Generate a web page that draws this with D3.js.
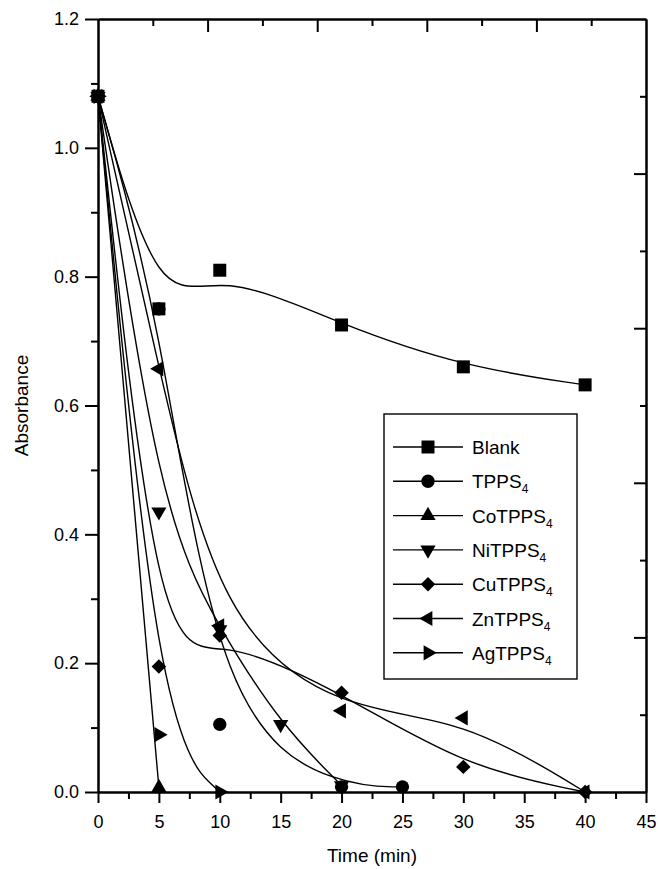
<!DOCTYPE html>
<html><head><meta charset="utf-8">
<script src="https://cdn.jsdelivr.net/npm/d3@7"></script>
<style>body{margin:0;background:#fff}svg{display:block}text{font-family:"Liberation Sans",Arial,Helvetica,sans-serif;fill:#000}</style>
</head><body><svg id="c" width="658" height="869"></svg>
<script>
// ---- data ----
const seriesNames = ["Blank","TPPS","CoTPPS","NiTPPS","CuTPPS","ZnTPPS","AgTPPS"];
const subscripts  = ["","4","4","4","4","4","4"];
const timeBlank = [0,5,10,20,30,40];   const blank = [1.08,0.75,0.81,0.725,0.66,0.632];
const timeTPPS  = [0,5,10,20,25];      const tpps  = [1.08,0.75,0.105,0.008,0.008];
const timeCo    = [0,5];               const co    = [1.08,0.007];
const timeNi    = [0,5,10,15,20];      const ni    = [1.08,0.435,0.252,0.105,0.01];
const timeCu    = [0,5,10,20,30,40];   const cu    = [1.08,0.195,0.243,0.154,0.039,0.0];
const timeZn    = [0,5,10,20,30,40];   const zn    = [1.08,0.657,0.258,0.126,0.115,0.0];
const timeAg    = [0,5,10];            const ag    = [1.08,0.089,0.0];
const xTicks = [0,5,10,15,20,25,30,35,40,45];
const yTicks = [0.0,0.2,0.4,0.6,0.8,1.0,1.2];
const xLabel = "Time (min)";
const yLabel = "Absorbance";

const series = [
  {t:timeBlank, v:blank, sym:"square"},
  {t:timeTPPS,  v:tpps,  sym:"circle"},
  {t:timeCo,    v:co,    sym:"up"},
  {t:timeNi,    v:ni,    sym:"down"},
  {t:timeCu,    v:cu,    sym:"diamond"},
  {t:timeZn,    v:zn,    sym:"left"},
  {t:timeAg,    v:ag,    sym:"right"}
];

// ---- layout ----
const svg = d3.select("#c");
const x = d3.scaleLinear().domain([0,45]).range([98,646]);
const y = d3.scaleLinear().domain([0,1.2]).range([792,19]);
const FS = 18;

function symPath(s){
  if(s==="square") return {d:d3.symbol(d3.symbolSquare,169)(), r:0};
  if(s==="circle") return {d:d3.symbol(d3.symbolCircle,140)(), r:0};
  if(s==="diamond") return {d:d3.symbol(d3.symbolSquare,105)(), r:45};
  const tri = d3.symbol(d3.symbolTriangle,100)();
  const rot = {up:0, down:180, left:-90, right:90}[s];
  return {d:tri, r:rot};
}

// curves
const line = d3.line().x(d=>x(d[0])).y(d=>y(d[1])).curve(d3.curveBasis);
const gCurves = svg.append("g");
series.forEach(s=>{
  const pts = s.t.map((t,i)=>[t,s.v[i]]);
  gCurves.append("path").attr("d",line(pts)).attr("fill","none")
    .attr("stroke","#000").attr("stroke-width",1.4);
});
// markers (Blank drawn last so it sits on top at t=0)
const gMarks = svg.append("g");
series.slice().reverse().forEach(s=>{
  const sp = symPath(s.sym);
  s.t.forEach((t,i)=>{
    gMarks.append("path").attr("d",sp.d)
      .attr("transform",`translate(${x(t)},${y(s.v[i])}) rotate(${sp.r})`)
      .attr("fill","#000");
  });
});

// ---- axes ----
function styleAxis(g){
  g.select(".domain").attr("stroke","#000").attr("stroke-width",2);
  g.selectAll(".tick line").attr("stroke","#000").attr("stroke-width",2);
  g.selectAll("text").attr("font-size",FS).attr("font-family","Liberation Sans, Arial, sans-serif").attr("fill","#000");
}
const minorX = d3.range(2.5,45,5);
const minorY = d3.range(0.1,1.2,0.2);
// bottom
svg.append("g").attr("transform","translate(0,792)")
  .call(d3.axisBottom(x).tickValues(minorX).tickSize(7).tickSizeOuter(0).tickFormat(""))
  .call(styleAxis);
svg.append("g").attr("transform","translate(0,792)")
  .call(d3.axisBottom(x).tickValues(xTicks).tickSize(11).tickSizeOuter(0).tickPadding(12).tickFormat(d3.format("d")))
  .call(styleAxis);
// left
svg.append("g").attr("transform","translate(98,0)")
  .call(d3.axisLeft(y).tickValues(minorY).tickSize(7).tickSizeOuter(0).tickFormat(""))
  .call(styleAxis);
svg.append("g").attr("transform","translate(98,0)")
  .call(d3.axisLeft(y).tickValues(yTicks).tickSize(13).tickSizeOuter(0).tickPadding(6).tickFormat(d3.format(".1f")))
  .call(styleAxis);
// top (inward, 10 divisions)
svg.append("g").attr("transform","translate(0,19)")
  .call(d3.axisTop(x).tickValues(d3.range(4.5,45,9)).tickSize(-7).tickSizeOuter(0).tickFormat(""))
  .call(styleAxis);
svg.append("g").attr("transform","translate(0,19)")
  .call(d3.axisTop(x).tickValues(d3.range(9,45,9)).tickSize(-13).tickSizeOuter(0).tickFormat(""))
  .call(styleAxis);
// right (inward, 10 divisions)
svg.append("g").attr("transform","translate(646,0)")
  .call(d3.axisRight(y).tickValues(d3.range(0.12,1.2,0.24)).tickSize(-6).tickSizeOuter(0).tickFormat(""))
  .call(styleAxis);
svg.append("g").attr("transform","translate(646,0)")
  .call(d3.axisRight(y).tickValues(d3.range(0.24,1.19,0.24)).tickSize(-12).tickSizeOuter(0).tickFormat(""))
  .call(styleAxis);

// axis titles
svg.append("text").attr("x",(x(0)+x(45))/2).attr("y",862).attr("text-anchor","middle")
  .attr("font-size",19).text(xLabel);
svg.append("text").attr("transform",`translate(28,${(y(0)+y(1.2))/2}) rotate(-90)`)
  .attr("text-anchor","middle").attr("font-size",19).text(yLabel);

// ---- legend ----
const lg = svg.append("g");
lg.append("rect").attr("x",384).attr("y",414).attr("width",193).attr("height",265)
  .attr("fill","#fff").attr("stroke","#000").attr("stroke-width",1.4);
series.forEach((s,i)=>{
  const cy = 447 + i*34.3;
  lg.append("line").attr("x1",393).attr("x2",463).attr("y1",cy).attr("y2",cy)
    .attr("stroke","#000").attr("stroke-width",1.4);
  const sp = symPath(s.sym);
  lg.append("path").attr("d",sp.d).attr("transform",`translate(428,${cy}) rotate(${sp.r})`).attr("fill","#000");
  const t = lg.append("text").attr("x",472).attr("y",cy+7).attr("font-size",19);
  t.append("tspan").text(seriesNames[i]);
  if(subscripts[i]) t.append("tspan").attr("font-size",12).attr("dy",5).text(subscripts[i]);
});
</script></body></html>
